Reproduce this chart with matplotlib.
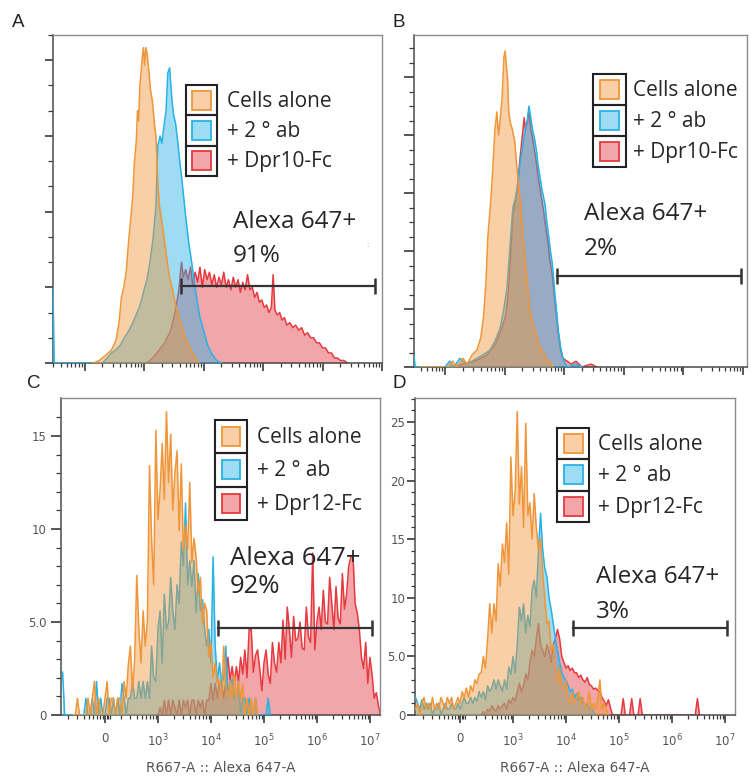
import numpy as np
import matplotlib.pyplot as plt
from matplotlib.patches import Rectangle

W, H = 751, 782
plt.rcParams['font.family'] = ['Open Sans', 'DejaVu Sans']

# x is in "display decades" of the FlowJo biexponential axis:
# 2 -> 0, 3 -> 10^3, 4 -> 10^4 ... 7 -> 10^7
xtick_pos = [2, 3, 4, 5, 6, 7]
xtick_labels = ['0', r'$10^3$', r'$10^4$', r'$10^5$', r'$10^6$', r'$10^7$']
xlabel = 'R667-A :: Alexa 647-A'

labels_ab = ['Cells alone', '+ 2 \u00b0 ab', '+ Dpr10-Fc']
labels_cd = ['Cells alone', '+ 2 \u00b0 ab', '+ Dpr12-Fc']
pct = ['91%', '2%', '92%', '3%']

# ---------------- panel A (counts, arbitrary units)
a_orange_x = [2.15, 2.25, 2.35, 2.45, 2.53, 2.58, 2.62, 2.66, 2.70, 2.74, 2.78, 2.81, 2.84, 2.87, 2.89,
              2.91, 2.93, 2.95, 2.97, 2.99, 3.01, 3.03, 3.05, 3.08, 3.11, 3.14, 3.17, 3.20, 3.23, 3.26,
              3.30, 3.34, 3.38, 3.42, 3.47, 3.53, 3.58, 3.63, 3.69, 3.75, 3.81, 3.86, 3.92]
a_orange_y = [0, 1, 3, 5, 9, 16, 26, 30, 36, 48, 58, 66, 80, 88, 100,
              96, 110, 115, 121, 125, 118, 125, 123, 116, 108, 104, 96, 90, 72, 62,
              56, 49, 42, 35, 30, 23, 19, 15, 10, 7, 4, 2, 0]
a_blue_x = [1.47, 1.49, 2.30, 2.38, 2.45, 2.52, 2.60, 2.67, 2.75, 2.83, 2.92, 2.97, 3.00, 3.05, 3.10,
            3.15, 3.20, 3.23, 3.27, 3.30, 3.33, 3.37, 3.40, 3.43, 3.47, 3.50, 3.53, 3.57, 3.60, 3.63,
            3.67, 3.70, 3.75, 3.80, 3.87, 3.93, 4.00, 4.07, 4.13, 4.22, 4.30]
a_blue_y = [30, 0, 0, 2, 4, 5, 7, 10, 13, 17, 22, 26, 29, 33, 40,
            49, 62, 86, 90, 87, 93, 100, 115, 117, 104, 98, 95, 87, 80, 74,
            65, 58, 48, 40, 28, 19, 13, 7, 4, 1, 0]
a_red_x = [3.05, 3.15, 3.25, 3.35, 3.45, 3.52, 3.58, 3.63, 3.66, 3.70, 3.74, 3.78, 3.82, 3.86, 3.90,
           3.94, 3.98, 4.02, 4.06, 4.10, 4.14, 4.18, 4.22, 4.26, 4.30, 4.34, 4.38, 4.42, 4.46, 4.50,
           4.54, 4.58, 4.62, 4.66, 4.70, 4.74, 4.78, 4.82, 4.86, 4.90, 4.94, 4.98, 5.02, 5.06, 5.10,
           5.14, 5.17, 5.20, 5.24, 5.28, 5.32, 5.36, 5.40, 5.45, 5.50, 5.55, 5.60, 5.65, 5.70, 5.75,
           5.80, 5.85, 5.90, 5.95, 6.00, 6.05, 6.10, 6.15, 6.20, 6.25, 6.30, 6.36, 6.42]
a_red_y = [0, 2, 5, 8, 13, 20, 28, 40, 34, 37, 33, 38, 31, 36, 32,
           38, 30, 37, 33, 36, 31, 35, 30, 34, 31, 36, 30, 33, 29, 34,
           30, 33, 28, 32, 29, 35, 29, 30, 26, 28, 24, 25, 22, 23, 20,
           22, 35, 21, 19, 20, 17, 18, 15, 16, 14, 15, 13, 14, 11, 12,
           10, 10, 8, 8, 6, 6, 4, 4, 2, 2, 1, 1, 0]
a_gate = [3.62, 6.88, 30.6]

# ---------------- panel B (counts, arbitrary units)
b_orange_x = [1.60, 2.05, 2.13, 2.20, 2.30, 2.37, 2.45, 2.54, 2.60, 2.65, 2.69, 2.72, 2.76, 2.79, 2.82,
              2.84, 2.87, 2.90, 2.93, 2.96, 2.99, 3.01, 3.03, 3.05, 3.07, 3.10, 3.13, 3.17, 3.21, 3.24,
              3.27, 3.31, 3.35, 3.38, 3.42, 3.46, 3.51, 3.56, 3.61, 3.66, 3.71, 3.76, 3.81]
b_orange_y = [0, 0, 2, 0, 3, 1, 4, 6, 10, 18, 30, 45, 55, 64, 75,
              82, 88, 80, 86, 93, 107, 109, 104, 100, 88, 84, 82, 78, 68, 62,
              57, 45, 36, 30, 20, 16, 13, 9, 6, 5, 2, 2, 0]
b_blue_x = [1.48, 1.50, 2.00, 2.08, 2.15, 2.25, 2.35, 2.45, 2.54, 2.62, 2.70, 2.76, 2.84, 2.92, 2.98,
            3.04, 3.09, 3.14, 3.18, 3.22, 3.26, 3.31, 3.35, 3.38, 3.41, 3.44, 3.46, 3.49, 3.51, 3.54,
            3.56, 3.60, 3.63, 3.66, 3.68, 3.71, 3.73, 3.77, 3.80, 3.83, 3.85, 3.88, 3.90, 3.94, 3.98,
            4.02, 4.06, 4.20, 4.30]
b_blue_y = [4, 0, 0, 2, 0, 3, 1, 2, 3, 4, 5, 6, 9, 13, 19,
            27, 41, 55, 58, 62, 70, 77, 82, 85, 90, 86, 83, 80, 78, 74,
            70, 65, 61, 58, 56, 50, 47, 40, 36, 29, 24, 18, 13, 7, 3,
            1, 0, 1, 0]
b_red_x = [2.10, 2.30, 2.50, 2.70, 2.85, 2.95, 3.02, 3.06, 3.10, 3.14, 3.18, 3.22, 3.26, 3.30, 3.33,
           3.35, 3.38, 3.41, 3.44, 3.47, 3.50, 3.53, 3.56, 3.60, 3.63, 3.66, 3.70, 3.73, 3.76, 3.80,
           3.83, 3.86, 3.90, 3.94, 3.98, 4.05, 4.12, 4.20, 4.30, 4.45, 4.55]
b_red_y = [0, 1, 2, 4, 8, 13, 18, 25, 38, 52, 57, 63, 72, 80, 86,
           82, 84, 88, 82, 79, 75, 71, 66, 61, 57, 53, 47, 43, 37, 32,
           26, 20, 12, 6, 3, 2, 1, 2, 0, 1, 0]
b_gate = [3.88, 6.97, 31.4]

# ---------------- panels C and D: histogram bins every 0.04 display decades
BIN = 0.04
c_orange_start = 1.40
c_orange = [0, 0, 0.9, 0, 0, 0, 0, 0.9, 0, 0.9, 1.8, 0, 0.9, 0, 0, 0.9, 1.8, 0, 0.9, 0.9,
            0, 0.9, 0.9, 0, 1.8, 0.9, 2.7, 3.7, 1.3, 3.0, 7.5, 4.6, 2.8, 5.6, 3.7, 5.1, 13.4, 9.4, 7.0, 15.3,
            10.5, 12.1, 14.6, 11.6, 16.3, 12.5, 15.1, 11.0, 13.0, 14.2, 9.9, 13.5, 8.9, 10.2, 8.9, 12.5, 8.2, 9.5, 8.5, 6.5,
            7.4, 4.9, 6.0, 5.6, 3.1, 3.9, 2.0, 2.8, 1.7, 1.9, 0.9, 3.7, 1.7, 0.9, 1.8, 0.9, 2.2, 0.9, 1.8, 0.9,
            1.7, 0, 0.9, 0, 0.9, 0, 0.9, 0]
c_blue_start = 1.20
c_blue = [2.3, 0, 0, 0, 0, 0, 0, 0, 0, 0, 0, 0.9, 0, 0, 0.9, 0, 1.8, 0, 0.9, 0,
          0, 0.9, 0.9, 0, 0.9, 0, 0.9, 0, 1.7, 0.9, 0, 0.9, 0.9, 1.8, 0.9, 0.9, 1.8, 0.9, 1.8, 0.9,
          1.8, 0.9, 3.7, 2.0, 1.8, 4.6, 5.6, 2.8, 6.5, 4.6, 5.0, 7.4, 5.6, 4.6, 7.0, 6.0, 9.3, 8.0, 11.4, 7.0,
          8.3, 6.9, 8.3, 5.5, 7.6, 5.6, 6.2, 4.6, 3.7, 4.6, 2.8, 8.5, 3.7, 1.8, 2.8, 1.8, 1.9, 3.7, 0.9, 1.8,
          1.9, 0.9, 0.9, 1.8, 0, 0.9, 0.9, 0, 0.9, 0, 0, 0.9, 0, 0, 0, 0, 0, 0.9, 0]
c_red_start = 3.00
c_red = [0, 0.4, 0, 0.8, 0, 0.8, 0, 0.8, 0.4, 0, 0.8, 0, 0.8, 0.4, 0.8, 0, 0.8, 0.8, 0, 0.8,
         0.4, 0.8, 0, 0.8, 0.8, 1.7, 0.8, 1.7, 0.9, 1.8, 1.7, 0.9, 1.8, 3.1, 1.9, 2.6, 1.7, 2.6, 1.8, 3.1,
         2.2, 3.5, 2.0, 4.6, 4.6, 2.3, 3.2, 3.5, 2.5, 1.3, 2.8, 3.5, 2.2, 1.7, 3.9, 2.8, 2.3, 3.9, 2.8, 5.1,
         3.0, 5.8, 4.6, 3.1, 5.3, 4.0, 4.1, 5.0, 3.6, 3.5, 5.8, 4.2, 3.9, 8.7, 3.5, 5.0, 5.8, 4.6, 6.7, 5.0,
         4.9, 7.4, 6.0, 4.6, 6.9, 5.2, 4.9, 7.6, 5.7, 6.5, 8.0, 8.5, 8.6, 6.0, 5.5, 4.6, 3.1, 2.5, 3.9, 1.7,
         3.1, 2.2, 0.9, 1.2, 0.5, 0]
c_gate = [4.13, 7.04, 4.68]

d_orange_start = 1.16
d_orange = [0.5, 1, 0, 1, 1.5, 0.5, 1, 0.5, 1.5, 0.5, 1, 0.5, 1.5, 1, 0.5, 1.5, 1, 1.5, 0.5, 1,
            1.5, 1, 2, 1.5, 2.3, 1.5, 2.5, 2, 3, 2.7, 3.5, 3.6, 5, 4, 6.4, 9.5, 7, 9.5, 8, 12.9,
            11, 14.6, 13, 16.4, 12, 22.0, 17, 19, 25.9, 18, 21.2, 16, 24.9, 17, 18.1, 15, 18.9, 16, 14.1, 15,
            12.1, 10, 7.8, 8, 5.5, 6, 4, 2.7, 4, 2.5, 2.1, 3, 1.5, 1, 2, 1, 1.5, 2, 1, 1.5,
            0.5, 1, 2, 0.5, 1, 0.5, 1.5, 3, 0.5, 1, 0.5, 0]
d_blue_start = 1.16
d_blue = [1.5, 1, 0.5, 1.3, 0.5, 1, 0.5, 1, 0, 0.5, 0.5, 1, 0, 0.5, 1, 0.5, 0.5, 1, 0.5, 0.5,
          1, 0.5, 1, 1.5, 1, 1, 1.5, 1, 1.5, 1.2, 2, 1.5, 2, 1.3, 2.5, 2, 2.3, 3, 2.2, 3,
          2.5, 2, 3, 2.2, 4.1, 3.5, 5, 3.6, 6, 9.2, 8, 9.5, 7, 8.5, 7.5, 10.7, 11.5, 10, 14, 17.2,
          14.1, 12.5, 11.8, 10, 9, 7.8, 6.5, 5.5, 4.5, 3.6, 3.2, 3, 2.5, 2, 2.2, 1.5, 1.8, 1.2, 1.5, 1,
          0.8, 1, 0.5, 0.6, 0.3, 0]
d_red_start = 2.40
d_red = [0, 0.3, 0, 0.5, 0.3, 0.8, 0.5, 0.3, 0.8, 0.5, 0.8, 1, 0.5, 1.3, 1, 1.5, 1.2, 2, 2.7, 2,
         2.5, 3.5, 3, 4.5, 5.5, 5, 6.5, 7.8, 6, 5.5, 5, 6, 5.5, 4.5, 6, 6.5, 7.3, 6.5, 5, 4.5,
         4, 4.2, 3.8, 4, 3.6, 3.6, 3.2, 3.4, 3, 2.8, 3.2, 2.6, 2.5, 2.2, 2.3, 2.1, 2, 1.5, 1.2, 0.8,
         1.3, 0.6, 0, 0, 0, 0, 0, 1.4, 0, 0, 0, 1.4, 0, 0, 0, 1.4, 0, 0, 0, 0,
         0, 0, 0, 0, 0, 0, 0, 0, 0, 0, 0, 0, 0, 0, 0, 0, 0, 0, 0, 0,
         0, 0, 1.4, 0]
d_gate = [4.13, 7.04, 7.42]

ORANGE = '#f0963a'
BLUE = '#27b3e6'
RED = '#e63a40'
DARK = '#3a3a3a'
TXT = '#262626'
TICKTXT = '#555555'


def fx(px):
    return px / W


def fy(py):
    return 1 - py / H


def px_box(l, t, r, b):
    return [l / W, 1 - b / H, (r - l) / W, (b - t) / H]


def bins(start, vals):
    return start + BIN * np.arange(len(vals))


def draw_hist(ax, x, y, color, z):
    ax.fill_between(x, 0, y, color=color, alpha=0.45, lw=0, zorder=z)
    ax.plot(x, y, color=color, lw=1.1, zorder=z + 0.1)


def minor_x(lo, hi, blob):
    pos = []
    for k in range(1, 7):
        for m in range(2, 10):
            p = k + np.log10(m)
            if lo < p < hi:
                pos.append(p)
    if blob:
        pos += [2.03, 2.06, 2.09]
    return pos


def style_axes(ax, xlim, ylim, ymaj, ymin, show_labels, ylab=None, ylen=6, ypad=3):
    ax.set_xlim(*xlim)
    ax.set_ylim(*ylim)
    ax.set_xticks(xtick_pos)
    ax.set_xticks(minor_x(xlim[0], xlim[1], show_labels), minor=True)
    ax.set_yticks(ymaj)
    ax.set_yticks(ymin, minor=True)
    if show_labels:
        ax.set_xticklabels(xtick_labels)
        ax.set_yticklabels(ylab)
    ax.tick_params(axis='x', which='major', length=5.5, width=1.2, color=DARK, labelsize=8.5,
                   labelcolor=TICKTXT, pad=7, labelbottom=show_labels)
    ax.tick_params(axis='x', which='minor', length=3, width=0.9, color=DARK)
    ax.tick_params(axis='y', which='major', length=ylen, width=1.2, color=DARK, labelsize=8.5,
                   labelcolor=TICKTXT, pad=ypad, labelleft=show_labels)
    ax.tick_params(axis='y', which='minor', length=ylen * 0.55, width=0.9, color=DARK)
    for s in ['left', 'bottom']:
        ax.spines[s].set_color('#4a4a4a')
        ax.spines[s].set_linewidth(1.1)
    for s in ['top', 'right']:
        ax.spines[s].set_color('#8c8c8c')
        ax.spines[s].set_linewidth(1.0)
    if show_labels:
        ax.set_xlabel(xlabel, fontsize=9.8, color=TICKTXT, family='DejaVu Sans')
        ax.xaxis.set_label_coords(0.5, -0.145)
        for t in ax.get_xticklabels() + ax.get_yticklabels():
            t.set_family('DejaVu Sans')


def draw_legend(ax, left, top, row_h, cell_w, text_x, labels):
    for i, (lab, col) in enumerate(zip(labels, [ORANGE, BLUE, RED])):
        y0 = top + i * row_h
        ax.add_patch(Rectangle((fx(left), fy(y0 + row_h)), cell_w / W, row_h / H,
                               transform=ax.figure.transFigure, fill=False, ec='#222222', lw=1.5, zorder=6))
        sq = 19
        ax.add_patch(Rectangle((fx(left + (cell_w - sq) / 2), fy(y0 + (row_h + sq) / 2)), sq / W, sq / H,
                               transform=ax.figure.transFigure, fc=col, alpha=0.45, lw=0, zorder=6))
        ax.add_patch(Rectangle((fx(left + (cell_w - sq) / 2), fy(y0 + (row_h + sq) / 2)), sq / W, sq / H,
                               transform=ax.figure.transFigure, fill=False, ec=col, lw=1.3, zorder=6))
        ax.text(fx(text_x), fy(y0 + row_h / 2 + 1), lab, transform=ax.figure.transFigure, fontsize=15,
                color=TXT, va='center', ha='left', clip_on=True, zorder=7)


def draw_gate(ax, gate, text_x, base1, base2, p, size=17.5):
    x0, x1, yv = gate
    ax.plot([x0, x1], [yv, yv], color='#333333', lw=1.6, marker='|', markersize=11,
            markeredgewidth=1.8, zorder=5)
    ax.text(fx(text_x), fy(base1), 'Alexa 647+', transform=ax.figure.transFigure, fontsize=size,
            color=TXT, va='baseline', ha='left', zorder=7)
    ax.text(fx(text_x), fy(base2), p, transform=ax.figure.transFigure, fontsize=size,
            color=TXT, va='baseline', ha='left', zorder=7)


fig = plt.figure(figsize=(W / 100, H / 100), dpi=100)

# ---- A
axA = fig.add_axes(px_box(53, 35, 382, 363))
draw_hist(axA, a_red_x, a_red_y, RED, 2)
draw_hist(axA, a_blue_x, a_blue_y, BLUE, 3)
draw_hist(axA, a_orange_x, a_orange_y, ORANGE, 4)
style_axes(axA, (1.47, 7.0), (0, 130), [0, 30, 60, 90, 120], np.arange(0, 131, 10), False, ylen=6)
draw_legend(axA, 186, 85, 30.3, 31, 227, labels_ab)
draw_gate(axA, a_gate, 233, 228, 262, pct[0])
axA.text(fx(366), fy(247), ':', transform=fig.transFigure, fontsize=6, color='#999999')

# ---- B
axB = fig.add_axes(px_box(414, 35, 747, 367))
draw_hist(axB, b_red_x, b_red_y, RED, 2)
draw_hist(axB, b_blue_x, b_blue_y, BLUE, 3)
draw_hist(axB, b_orange_x, b_orange_y, ORANGE, 4)
style_axes(axB, (1.48, 7.07), (0, 114.5), [0, 20, 40, 60, 80, 100], np.arange(0, 115, 5), False, ylen=7)
draw_legend(axB, 593, 74, 31, 33, 633, labels_ab)
draw_gate(axB, b_gate, 584, 220, 255, pct[1])

# ---- C
axC = fig.add_axes(px_box(61, 398, 380, 715))
draw_hist(axC, bins(c_red_start, c_red), c_red, RED, 2)
draw_hist(axC, bins(c_blue_start, c_blue), c_blue, BLUE, 3)
draw_hist(axC, bins(c_orange_start, c_orange), c_orange, ORANGE, 4)
style_axes(axC, (1.17, 7.19), (0, 17.04), [0, 5, 10, 15], np.arange(0, 17, 1), True,
           ['0', '5.0', '10', '15'], ylen=7, ypad=3.5)
draw_legend(axC, 215, 420, 33.3, 32, 257, labels_cd)
draw_gate(axC, c_gate, 230, 565, 593, pct[2], size=18.5)

# ---- D
axD = fig.add_axes(px_box(415, 398, 735, 715))
draw_hist(axD, bins(d_red_start, d_red), d_red, RED, 2)
draw_hist(axD, bins(d_blue_start, d_blue), d_blue, BLUE, 3)
draw_hist(axD, bins(d_orange_start, d_orange), d_orange, ORANGE, 4)
style_axes(axD, (1.15, 7.19), (0, 27.05), [0, 5, 10, 15, 20, 25], np.arange(0, 28, 1), True,
           ['0', '5.0', '10', '15', '20', '25'], ylen=5.5, ypad=1.5)
draw_legend(axD, 557, 428, 31.3, 32, 598, labels_cd)
draw_gate(axD, d_gate, 596, 583, 618, pct[3])

# panel letters
for letter, px, py in [('A', 12, 27), ('B', 392, 27), ('C', 27, 388), ('D', 392, 388)]:
    fig.text(fx(px), fy(py), letter, fontsize=13.5, color='#222222', family='Liberation Sans',
             va='baseline', ha='left')

fig.savefig('out.png', dpi=100)
